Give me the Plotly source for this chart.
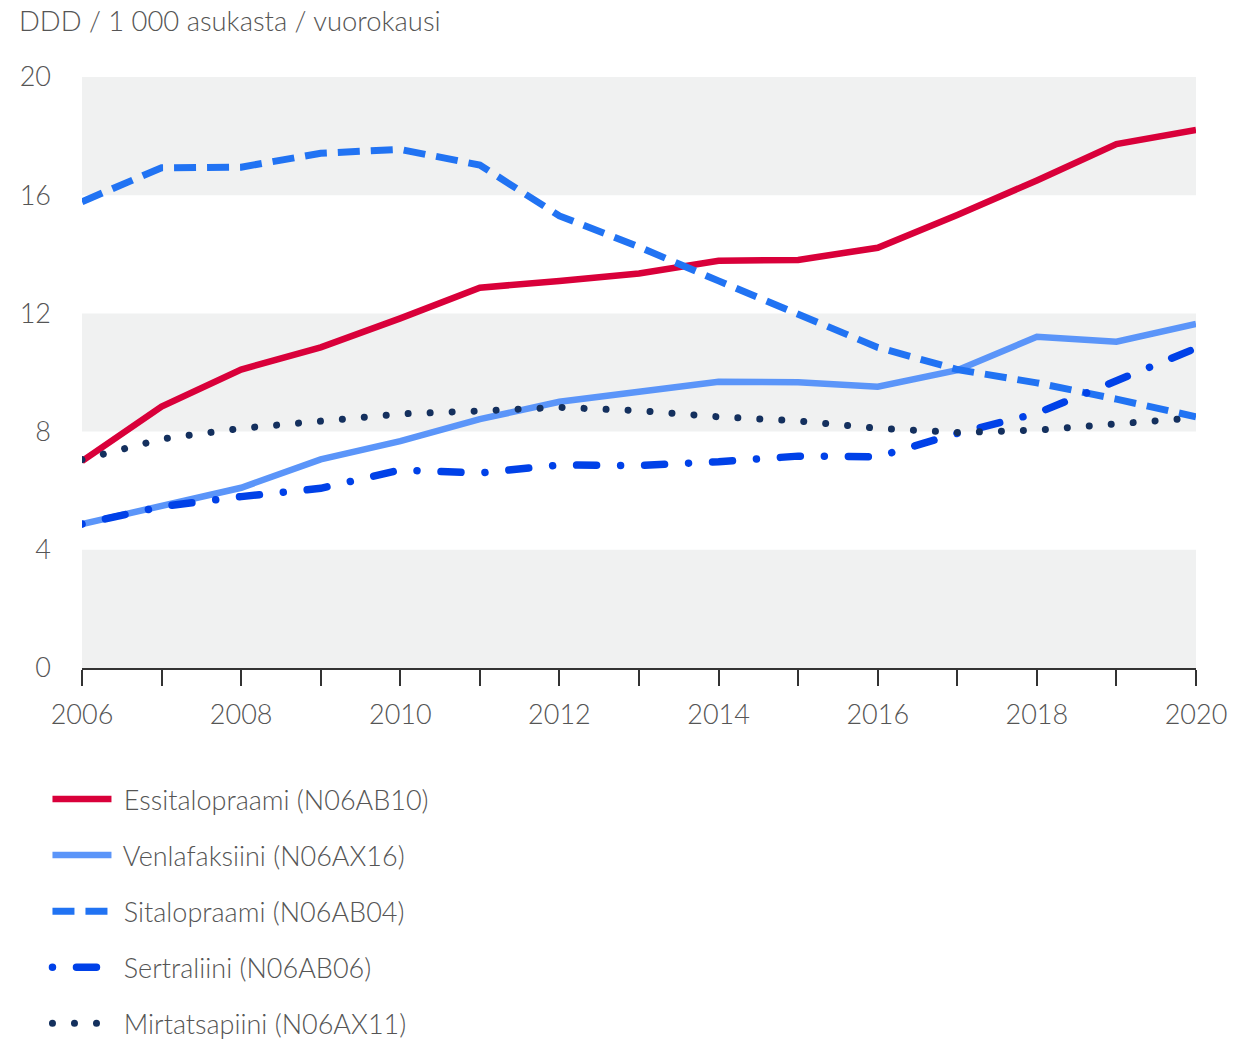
import plotly.graph_objects as go

years = list(range(2006, 2021))

essitalopraami = [7.0, 8.85, 10.1, 10.85, 11.83, 12.87, 13.1, 13.35, 13.78, 13.81, 14.22, 15.33, 16.5, 17.73, 18.21]
venlafaksiini = [4.87, 5.47, 6.1, 7.06, 7.68, 8.42, 9.01, 9.35, 9.69, 9.67, 9.52, 10.08, 11.21, 11.04, 11.64]
sitalopraami = [15.78, 16.93, 16.95, 17.42, 17.55, 17.02, 15.3, 14.25, 13.1, 12.0, 10.85, 10.1, 9.65, 9.1, 8.5]
sertraliini = [4.87, 5.46, 5.8, 6.08, 6.7, 6.6, 6.87, 6.85, 6.98, 7.17, 7.15, 7.94, 8.62, 9.75, 10.82]
mirtatsapiini = [7.05, 7.75, 8.11, 8.34, 8.6, 8.7, 8.82, 8.71, 8.5, 8.36, 8.11, 7.97, 8.05, 8.26, 8.47]

series_names = [
    "Essitalopraami (N06AB10)",
    "Venlafaksiini (N06AX16)",
    "Sitalopraami (N06AB04)",
    "Sertraliini (N06AB06)",
    "Mirtatsapiini (N06AX11)",
]
series_values = [essitalopraami, venlafaksiini, sitalopraami, sertraliini, mirtatsapiini]

y_tick_values = [0, 4, 8, 12, 16, 20]
x_tick_labels = [str(y) if y % 2 == 0 else "" for y in years]
shaded_bands = [(16, 20), (8, 12), (0, 4)]

y_title = "DDD / 1 000 asukasta / vuorokausi"

styles = [
    dict(color="#D9003A", width=6.5, dash="solid"),
    dict(color="#5B95F9", width=6.5, dash="solid"),
    dict(color="#2173F3", width=7, dash="22px,11px"),
    dict(color="#0041E8", width=7.5, dash="0.01px,24px,20px,24px"),
    dict(color="#14305E", width=7, dash="0.01px,22px"),
]

FONT = "Lato, 'Open Sans', sans-serif"
TEXT_COLOR = "#555555"
FS = 27

fig = go.Figure()
for i, (name, vals, st) in enumerate(zip(series_names, series_values, styles)):
    fig.add_trace(go.Scatter(
        x=years, y=vals, name="\u00a0" + name, mode="lines",
        line=dict(color=st["color"], width=st["width"], dash=st["dash"]),
        legendgroup=f"g{i}", hoverinfo="skip",
    ))

shapes = []
for lo, hi in shaded_bands:
    shapes.append(dict(type="rect", xref="paper", yref="y", x0=0, x1=1, y0=lo, y1=hi,
                       fillcolor="#F0F1F1", line=dict(width=0), layer="below"))

fig.update_layout(
    width=1233, height=1041,
    margin=dict(l=82, r=37, t=77, b=373, autoexpand=False),
    paper_bgcolor="white", plot_bgcolor="white",
    font=dict(family=FONT, size=FS, color=TEXT_COLOR, weight=300),
    shapes=shapes,
    showlegend=True,
    legend=dict(
        orientation="v", xref="paper", x=-0.031, xanchor="left",
        yref="container", y=0.2556, yanchor="top",
        font=dict(family=FONT, size=FS, color=TEXT_COLOR, weight=300),
        itemwidth=59, tracegroupgap=18, bgcolor="rgba(0,0,0,0)",
        itemclick=False, itemdoubleclick=False,
    ),
    annotations=[dict(
        text=y_title, xref="paper", yref="paper", x=-0.0585, y=1.0948,
        xanchor="left", yanchor="middle", showarrow=False,
        font=dict(family=FONT, size=27.4, color=TEXT_COLOR, weight=300),
    )],
)

fig.update_xaxes(
    range=[2006, 2020], tickvals=years, ticktext=x_tick_labels,
    showgrid=False, zeroline=False,
    showline=True, linecolor="#333333", linewidth=2,
    ticks="outside", ticklen=16, tickwidth=2, tickcolor="#333333",
    tickfont=dict(family=FONT, size=FS, color=TEXT_COLOR, weight=300),
    ticklabelstandoff=6,
)
fig.update_yaxes(
    range=[0, 20], tickvals=y_tick_values,
    showgrid=False, zeroline=False, showline=False, ticks="",
    tickfont=dict(family=FONT, size=FS, color=TEXT_COLOR, weight=300),
    ticklabelstandoff=30,
)

post_js = """
document.body.style.margin = '0';
document.body.style.overflow = 'hidden';
var gd = document.getElementById('{plot_id}');
function roundCaps(){
  gd.querySelectorAll('path.js-line').forEach(function(p){
    var da = p.style.strokeDasharray || '';
    if (da.indexOf('0.01') === 0) { p.style.strokeLinecap = 'round'; }
  });
}
roundCaps();
gd.on('plotly_afterplot', roundCaps);
"""

fig.write_html("out.html", post_script=post_js, config={"displayModeBar": False, "staticPlot": True})
